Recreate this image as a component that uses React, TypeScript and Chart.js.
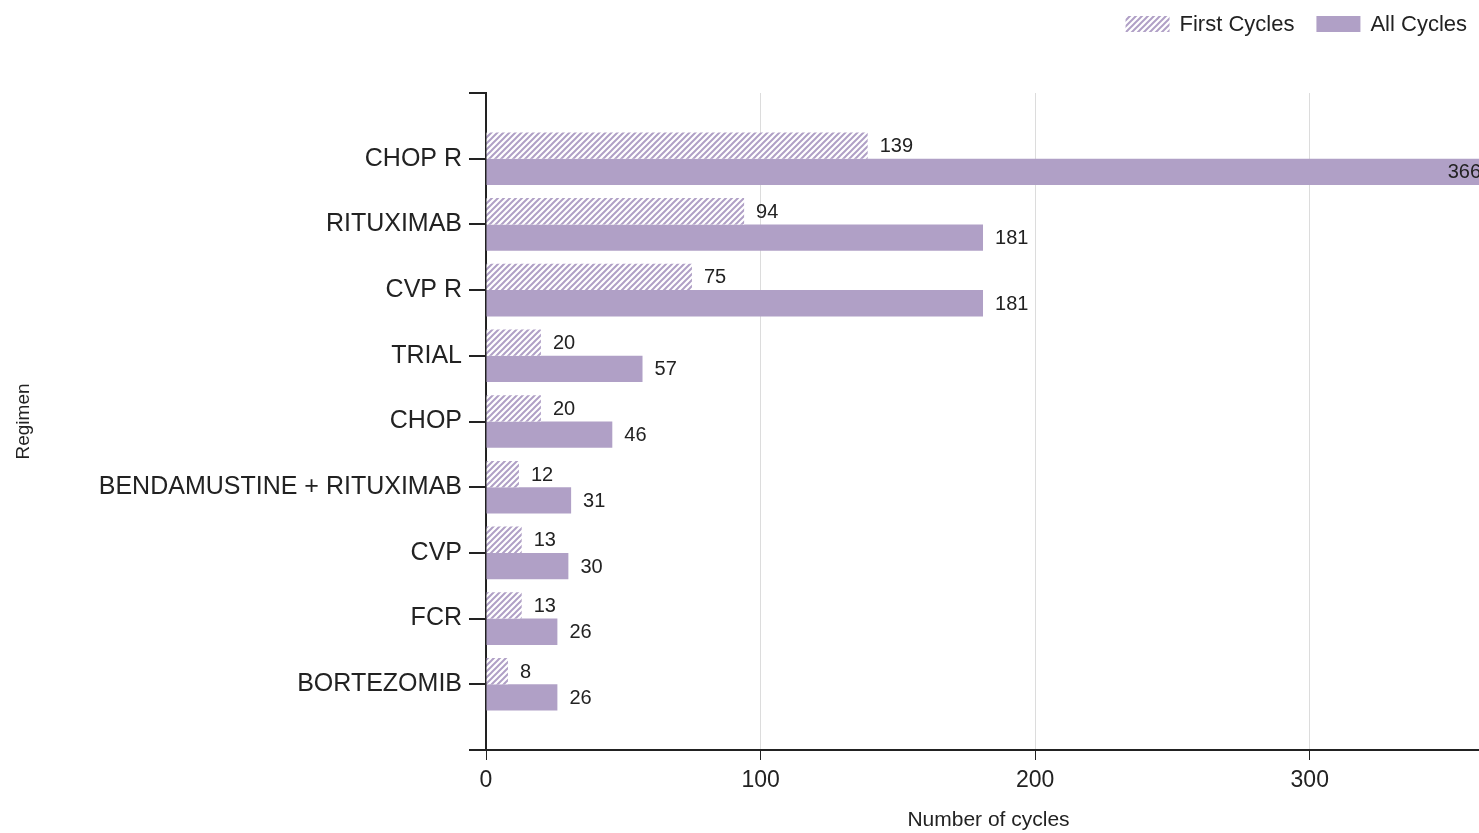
import React, { useEffect, useRef } from "react";
import { Chart, registerables } from "chart.js";

Chart.register(...registerables);

const categories = [
  "CHOP R",
  "RITUXIMAB",
  "CVP R",
  "TRIAL",
  "CHOP",
  "BENDAMUSTINE + RITUXIMAB",
  "CVP",
  "FCR",
  "BORTEZOMIB",
];
const firstCycles = [139, 94, 75, 20, 20, 12, 13, 13, 8];
const allCycles = [366, 181, 181, 57, 46, 31, 30, 26, 26];
const seriesNames = ["First Cycles", "All Cycles"];
const xMax = 366;
const xStep = 100;
const xTitle = "Number of cycles";
const yTitle = "Regimen";

const FONT = "'Liberation Sans', Arial, sans-serif";
const BAR = "#b0a0c6";
const TEXT = "#222222";

function makeHatch(): CanvasPattern | string {
  const c = document.createElement("canvas");
  c.width = 6;
  c.height = 6;
  const g = c.getContext("2d");
  if (!g) return BAR;
  g.fillStyle = "#ffffff";
  g.fillRect(0, 0, 6, 6);
  g.strokeStyle = BAR;
  g.lineWidth = 2;
  g.beginPath();
  g.moveTo(-1, 7);
  g.lineTo(7, -1);
  g.moveTo(-4, 4);
  g.lineTo(4, -4);
  g.moveTo(2, 10);
  g.lineTo(10, 2);
  g.stroke();
  const p = g.createPattern(c, "repeat");
  return p || BAR;
}

export default function App() {
  const ref = useRef<HTMLCanvasElement | null>(null);

  useEffect(() => {
    if (!ref.current) return;
    const hatch = makeHatch();

    const labelPlugin = {
      id: "barValues",
      afterDatasetsDraw(chart: any) {
        const ctx = chart.ctx;
        const area = chart.chartArea;
        ctx.save();
        ctx.font = `20px ${FONT}`;
        ctx.fillStyle = TEXT;
        ctx.textBaseline = "middle";
        chart.data.datasets.forEach((ds: any, di: number) => {
          const meta = chart.getDatasetMeta(di);
          meta.data.forEach((el: any, i: number) => {
            const v = ds.data[i];
            if (v === null || v === undefined) return;
            const txt = String(v);
            const w = ctx.measureText(txt).width;
            if (el.x + 12 + w > area.right) {
              ctx.textAlign = "right";
              ctx.fillText(txt, el.x - 10, el.y + 1);
            } else {
              ctx.textAlign = "left";
              ctx.fillText(txt, el.x + 12, el.y + 1);
            }
          });
        });
        ctx.restore();
      },
    };

    const legendPlugin = {
      id: "customLegend",
      afterDraw(chart: any) {
        const ctx = chart.ctx;
        ctx.save();
        ctx.font = `22px ${FONT}`;
        ctx.textBaseline = "middle";
        ctx.textAlign = "left";
        let right = 1467;
        const ds = chart.data.datasets;
        for (let i = ds.length - 1; i >= 0; i--) {
          const txt = ds[i].label;
          const w = ctx.measureText(txt).width;
          const tx = right - w;
          const bx = tx - 10 - 44;
          ctx.fillStyle = ds[i].backgroundColor;
          ctx.fillRect(bx, 16, 44, 16);
          ctx.fillStyle = TEXT;
          ctx.fillText(txt, tx, 25);
          right = bx - 22;
        }
        ctx.restore();
      },
    };

    const chart = new Chart(ref.current, {
      type: "bar",
      data: {
        labels: ["", ...categories, ""],
        datasets: [
          {
            label: seriesNames[0],
            data: [null, ...firstCycles, null],
            backgroundColor: hatch as any,
            borderWidth: 0,
            barPercentage: 1,
            categoryPercentage: 0.8,
          },
          {
            label: seriesNames[1],
            data: [null, ...allCycles, null],
            backgroundColor: BAR,
            borderWidth: 0,
            barPercentage: 1,
            categoryPercentage: 0.8,
          },
        ],
      },
      options: {
        indexAxis: "y",
        responsive: false,
        animation: false,
        layout: { padding: { top: 93, left: 0, right: 9, bottom: 0 } },
        plugins: {
          legend: { display: false },
          tooltip: { enabled: false },
        },
        scales: {
          x: {
            type: "linear",
            min: 0,
            max: xMax,
            ticks: {
              stepSize: xStep,
              includeBounds: false,
              font: { family: FONT, size: 23 },
              color: TEXT,
              padding: 7,
            },
            grid: {
              color: "#dcdcdc",
              tickColor: TEXT,
              tickLength: 10,
              lineWidth: 1,
            },
            border: { color: TEXT, width: 2 },
            title: {
              display: true,
              text: xTitle,
              font: { family: FONT, size: 21 },
              color: TEXT,
              padding: 0,
            },
            afterFit: (s: any) => {
              s.height = 83;
            },
          },
          y: {
            type: "category",
            offset: false,
            ticks: {
              autoSkip: false,
              font: { family: FONT, size: 25 },
              color: TEXT,
              padding: 7,
            },
            grid: {
              drawOnChartArea: false,
              offset: false,
              color: TEXT,
              tickLength: 17,
              lineWidth: 2,
            },
            border: { color: TEXT, width: 2 },
            title: {
              display: true,
              text: yTitle,
              font: { family: FONT, size: 19 },
              color: TEXT,
              padding: { top: 12, bottom: 0 },
            },
            afterFit: (s: any) => {
              s.width = 486;
            },
          },
        },
      } as any,
      plugins: [labelPlugin, legendPlugin],
    });
    return () => chart.destroy();
  }, []);

  return (
    <div
      style={{
        position: "fixed",
        left: 0,
        top: 0,
        width: 1479,
        height: 833,
        overflow: "hidden",
        background: "#ffffff",
      }}
    >
      <canvas ref={ref} width={1500} height={833} style={{ display: "block" }} />
    </div>
  );
}
